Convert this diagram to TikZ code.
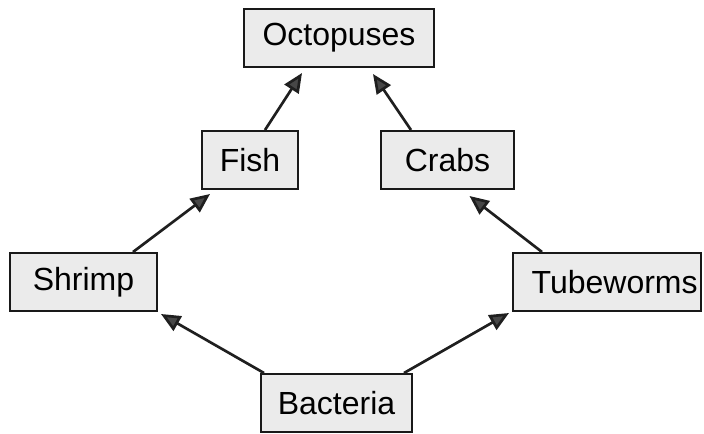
\documentclass[tikz,border=0pt]{standalone}
\usepackage{fontspec}
\setmainfont{Liberation Sans}
\usetikzlibrary{arrows.meta,calc}
\begin{document}
\begin{tikzpicture}[x=0.75pt,y=-0.75pt,
  box/.style={draw=black!90, line width=1.5pt, fill=black!8, inner sep=0pt,
    minimum height=43.5pt, font=\fontsize{24}{27}\selectfont, anchor=center},
  link/.style={draw=black!88, line width=2pt,
    -{Triangle[length=14.5pt,width=12.5pt,fill=black!72]}}]
\useasboundingbox (0,0) rectangle (704,433);
\node[box, minimum width=142.5pt] (oct) at (339,38) {Octopuses};
\node[box, minimum width=72pt] (fish) at (250,160) {Fish};
\node[box, minimum width=99.75pt] (crab) at (447.5,160) {Crabs};
\node[box, minimum width=110.25pt] (shr) at (83.5,282) {Shrimp};
\node[box, minimum width=141pt, text width=136pt, align=right] (tube) at (607,282) {Tubeworms};
\node[box, minimum width=113.25pt] (bac) at (336.5,403) {Bacteria};
\draw[link] ($(bac.north west)+(4,0)$) -- ($(shr.south east)+(3,2)$);
\draw[link] ($(bac.north east)+(-9,0)$) -- ($(tube.south west)+(-3,1)$);
\draw[link] ($(shr.north)+(49.5,0)$) -- ($(fish.south west)+(9,4)$);
\draw[link] ($(tube.north west)+(30,0)$) -- ($(crab.south)+(22,6)$);
\draw[link] ($(fish.north)+(15,0)$) -- ($(oct.south west)+(59,5)$);
\draw[link] ($(crab.north west)+(31,0)$) -- ($(oct.south)+(34,6)$);
\end{tikzpicture}
\end{document}
